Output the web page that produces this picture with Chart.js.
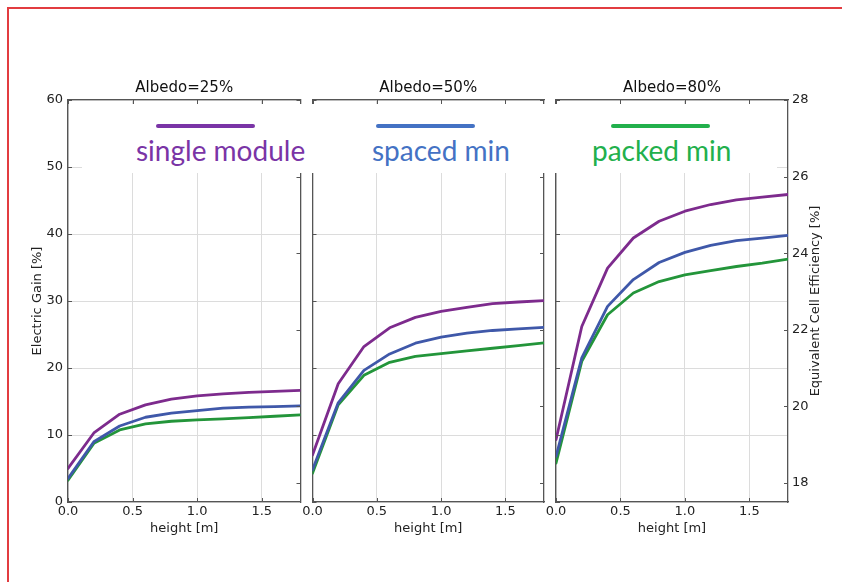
<!DOCTYPE html>
<html>
<head>
<meta charset="utf-8">
<script src="https://cdn.jsdelivr.net/npm/chart.js@4/dist/chart.umd.min.js"></script>
<style>
  html, body { margin: 0; padding: 0; background: #fff; }
  #page { position: relative; width: 842px; height: 582px; overflow: hidden; background: #fff; }
  #frame { position: absolute; left: 7px; top: 7px; width: 900px; height: 700px; z-index: 10;
           border-top: 2px solid rgb(226, 60, 64); border-left: 2px solid rgb(226, 60, 64);
           pointer-events: none; }
  canvas.panel { position: absolute; left: 0; top: 0; }
  #keyBand { position: absolute; left: 82px; top: 104px; width: 695px; height: 69px;
             background: #fff; z-index: 5; }
  .keyLine { position: absolute; top: 20px; height: 4px; width: 99px; border-radius: 2px; }
  .keyText { position: absolute; top: 32px; font-family: Lato, 'Open Sans', sans-serif;
             font-size: 28px; line-height: 1; white-space: nowrap; }
</style>
</head>
<body>
<div id="page">
  <div id="frame"></div>
  <canvas id="p1" class="panel" width="842" height="582"></canvas>
  <canvas id="p2" class="panel" width="842" height="582"></canvas>
  <canvas id="p3" class="panel" width="842" height="582"></canvas>
  <div id="keyBand"></div>
</div>
<script>
// module height above ground [m]
const heights = [0, 0.2, 0.4, 0.6, 0.8, 1.0, 1.2, 1.4, 1.6, 1.8];

const albedoTitles = ['Albedo=25%', 'Albedo=50%', 'Albedo=80%'];
const seriesNames = ['single module', 'spaced min', 'packed min'];

// electric gain [%], albedo 25 %
const single25 = [5.0, 10.3, 13.1, 14.5, 15.35, 15.85, 16.15, 16.35, 16.5, 16.65];
const spaced25 = [3.5, 9.0, 11.35, 12.65, 13.25, 13.65, 14.0, 14.15, 14.25, 14.35];
const packed25 = [3.25, 8.75, 10.75, 11.65, 12.05, 12.25, 12.4, 12.6, 12.8, 13.0];

// electric gain [%], albedo 50 %
const single50 = [7.0, 17.65, 23.2, 26.0, 27.55, 28.45, 29.05, 29.6, 29.85, 30.05];
const spaced50 = [4.8, 14.8, 19.65, 22.1, 23.7, 24.6, 25.2, 25.6, 25.85, 26.05];
const packed50 = [4.3, 14.5, 18.9, 20.85, 21.75, 22.15, 22.55, 22.95, 23.35, 23.75];

// electric gain [%], albedo 80 %
const single80 = [9.3, 26.2, 34.9, 39.4, 41.9, 43.4, 44.4, 45.1, 45.5, 45.9];
const spaced80 = [6.8, 21.5, 29.2, 33.2, 35.75, 37.25, 38.3, 39.0, 39.4, 39.8];
const packed80 = [5.8, 21.0, 27.95, 31.2, 32.9, 33.9, 34.55, 35.15, 35.65, 36.25];

const lineColors = ['#7d2b8d', '#3f58a9', '#23953a'];
const keyColors = ['#7a34a6', '#4472c4', '#22b04c'];

Chart.defaults.font.family = "'DejaVu Sans', 'Liberation Sans', sans-serif";
Chart.defaults.color = '#222';

const SPINE = '#555';
const GRID = '#dcdcdc';

// short tick marks pointing into the plot on every side
const inwardTicks = {
  id: 'inwardTicks',
  afterDraw(chart) {
    const { ctx, chartArea: a, scales } = chart;
    const len = 4;
    ctx.save();
    ctx.strokeStyle = SPINE;
    ctx.lineWidth = 1;
    ctx.beginPath();
    scales.x.ticks.forEach(t => {
      const px = Math.round(scales.x.getPixelForValue(t.value)) + 0.5;
      ctx.moveTo(px, a.top); ctx.lineTo(px, a.top + len);
      ctx.moveTo(px, a.bottom); ctx.lineTo(px, a.bottom - len);
    });
    scales.y.ticks.forEach(t => {
      const py = Math.round(scales.y.getPixelForValue(t.value)) + 0.5;
      ctx.moveTo(a.left, py); ctx.lineTo(a.left + len, py);
    });
    scales.y2.ticks.forEach(t => {
      const py = Math.round(scales.y2.getPixelForValue(t.value)) + 0.5;
      ctx.moveTo(a.right, py); ctx.lineTo(a.right - len, py);
    });
    ctx.stroke();
    ctx.restore();
  }
};

// title of the right-hand efficiency axis, reading bottom to top
const efficiencyTitle = {
  id: 'efficiencyTitle',
  afterDraw(chart, args, opts) {
    if (!opts.text) return;
    const { ctx, chartArea: a } = chart;
    ctx.save();
    ctx.translate(a.right + 28, (a.top + a.bottom) / 2);
    ctx.rotate(-Math.PI / 2);
    ctx.font = "13px 'DejaVu Sans', sans-serif";
    ctx.fillStyle = '#222';
    ctx.textAlign = 'center';
    ctx.textBaseline = 'middle';
    ctx.fillText(opts.text, 0, 0);
    ctx.restore();
  }
};

function toPoints(values) {
  return values.map((v, i) => ({ x: heights[i], y: v }));
}

function makePanel(id, title, series, box) {
  const datasets = series.map((vals, i) => ({
    label: seriesNames[i],
    data: toPoints(vals),
    borderColor: lineColors[i],
    backgroundColor: lineColors[i],
    borderWidth: 2.8,
    pointRadius: 0,
    tension: 0,
    borderJoinStyle: 'round',
    borderCapStyle: 'round'
  }));
  return new Chart(document.getElementById(id), {
    type: 'line',
    data: { datasets },
    plugins: [inwardTicks, efficiencyTitle],
    options: {
      responsive: false,
      animation: false,
      events: [],
      layout: { padding: { left: box.padLeft, right: box.padRight, top: 0, bottom: 46 } },
      plugins: {
        legend: { display: false },
        tooltip: { enabled: false },
        efficiencyTitle: { text: box.rightTitle ? 'Equivalent Cell Efficiency [%]' : '' }
      },
      scales: {
        x: {
          type: 'linear', position: 'bottom', min: 0, max: 1.8,
          ticks: { stepSize: 0.5, includeBounds: false, padding: 2, font: { size: 13 },
                   callback: v => v.toFixed(1) },
          grid: { color: GRID, lineWidth: 1, drawTicks: false },
          border: { display: true, color: SPINE, width: 1.3 },
          title: { display: true, text: 'height [m]', font: { size: 13 }, padding: { top: 0, bottom: 0 } },
          afterFit: s => { s.height = 34; }
        },
        x2: {
          type: 'linear', position: 'top', min: 0, max: 1.8,
          ticks: { display: false, stepSize: 0.5, includeBounds: false },
          grid: { display: false, drawTicks: false },
          border: { display: true, color: SPINE, width: 1.3 },
          title: { display: true, text: title, color: '#111', font: { size: 15 },
                   padding: { top: 79.5, bottom: 0 } },
          afterFit: s => { s.height = 100; }
        },
        y: {
          type: 'linear', position: 'left', min: 0, max: 60,
          ticks: { display: box.leftLabels, stepSize: 10, padding: 5, font: { size: 13 } },
          grid: { color: GRID, lineWidth: 1, drawTicks: false },
          border: { display: true, color: SPINE, width: 1.3 },
          title: { display: box.leftLabels, text: 'Electric Gain [%]', font: { size: 13 },
                   padding: { top: 30, bottom: 0 } },
          afterFit: s => { s.width = box.leftWidth; }
        },
        y2: {
          type: 'linear', position: 'right', min: 17.5, max: 28,
          ticks: { display: box.rightLabels, stepSize: 2, includeBounds: false, padding: 4, font: { size: 13 } },
          grid: { display: false, drawTicks: false },
          border: { display: true, color: SPINE, width: 1.3 },
          afterFit: s => { s.width = box.rightWidth; }
        }
      }
    }
  });
}

makePanel('p1', albedoTitles[0], [single25, spaced25, packed25],
  { padLeft: 0, leftWidth: 68, padRight: 531.5, rightWidth: 10, leftLabels: true, rightLabels: false });
makePanel('p2', albedoTitles[1], [single50, spaced50, packed50],
  { padLeft: 302.5, leftWidth: 10, padRight: 288, rightWidth: 10, leftLabels: false, rightLabels: false });
makePanel('p3', albedoTitles[2], [single80, spaced80, packed80],
  { padLeft: 546, leftWidth: 10, padRight: 0, rightWidth: 54, leftLabels: false, rightLabels: true, rightTitle: true });

// series key band above the panels
const band = document.getElementById('keyBand');
const keyLineLeft = [74, 294, 529];
const keyTextLeft = [54, 290, 510];
seriesNames.forEach((name, i) => {
  const line = document.createElement('div');
  line.className = 'keyLine';
  line.style.left = keyLineLeft[i] + 'px';
  line.style.background = keyColors[i];
  band.appendChild(line);
  const txt = document.createElement('div');
  txt.className = 'keyText';
  txt.style.left = keyTextLeft[i] + 'px';
  txt.style.color = keyColors[i];
  txt.textContent = name;
  band.appendChild(txt);
});
</script>
</body>
</html>
